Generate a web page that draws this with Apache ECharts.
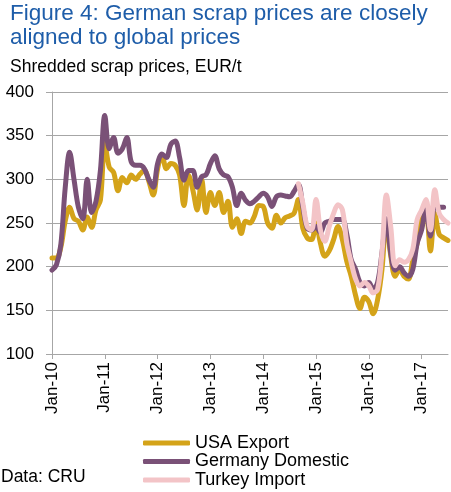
<!DOCTYPE html>
<html>
<head>
<meta charset="utf-8">
<script src="https://cdn.jsdelivr.net/npm/echarts@6/dist/echarts.min.js"></script>
<style>
    html, body { margin: 0; padding: 0; background: #fff; }
    #container { width: 451px; height: 492px; }
</style>
</head>
<body>
<div id="container"></div>
<script>
// 月份标签 Jan-10 ... Jul-17
var monthNames = ['Jan', 'Feb', 'Mar', 'Apr', 'May', 'Jun', 'Jul', 'Aug', 'Sep', 'Oct', 'Nov', 'Dec'];
var years = ['10', '11', '12', '13', '14', '15', '16', '17'];
var lastMonthIndex = 6; // Jul-17
var categories = [];
for (var y = 0; y < years.length; y++) {
    for (var m = 0; m < 12; m++) {
        if (y == years.length - 1 && m > lastMonthIndex) break;
        categories.push(monthNames[m] + '-' + years[y]);
    }
}

var yTicks = [100, 150, 200, 250, 300, 350, 400];

var usaExport = [
    210, 210, 222, 252, 268, 255, 252, 242, 257, 245, 265, 276,
    342, 314, 308, 287, 302, 296, 305, 300, 306, 310, 298, 282,
    312, 328, 312, 318, 316, 305, 270, 305, 288, 265, 300, 262,
    285, 270, 285, 262, 275, 245, 255, 238, 252, 250, 258, 270,
    269, 250, 244, 259, 250, 256, 258, 261, 277, 244, 233, 231,
    250, 227, 212, 218, 231, 246, 231, 206, 189, 167, 152, 165,
    160, 146, 162, 197, 254, 212, 189, 197, 189, 186, 208, 227,
    254, 261, 218, 261, 237, 233, 230
];

var germanyDomestic = [
    196, 202, 225, 290, 331, 300, 268, 255, 300, 262, 275, 310,
    373, 335, 348, 330, 335, 348, 320, 316, 316, 312, 300, 291,
    318, 329, 325, 340, 344, 325, 299, 310, 310, 291, 303, 305,
    318, 327, 312, 305, 303, 291, 270, 284, 276, 272, 275, 280,
    284, 280, 269, 280, 282, 281, 280, 286, 294, 269, 244, 242,
    246, 239, 250, 252, 254, 254, 254, 237, 208, 197, 182, 178,
    182, 174, 182, 216, 255, 215, 196, 200, 193, 189, 197, 227,
    242, 268, 235, 269, 268, 268, null
];

var turkeyImport = [
    null, null, null, null, null, null, null, null, null, null, null, null,
    null, null, null, null, null, null, null, null, null, null, null, null,
    null, null, null, null, null, null, null, null, null, null, null, null,
    null, null, null, null, null, null, null, null, null, null, null, null,
    null, null, null, null, null, null, null, null, 295, 273, 246, 242,
    277, 242, 229, 246, 261, 271, 265, 227, 205, 186, 178, 182,
    178, 170, 174, 216, 282, 245, 201, 208, 205, 208, 220, 254,
    265, 277, 242, 288, 261, 254, 250
];

var seriesNames = ['USA Export', 'Germany Domestic', 'Turkey Import'];
var seriesColors = ['#D4A319', '#7A5177', '#F3C4C7'];
var seriesData = [usaExport, germanyDomestic, turkeyImport];

var fontName = 'Liberation Sans, Arial, sans-serif';
var container = echarts.init(document.getElementById('container'));

function getOption() {
    var series = [];
    for (var i = 0; i < seriesData.length; i++) {
        series.push({
            name: seriesNames[i],
            type: 'line',
            data: seriesData[i],
            smooth: 0.35,
            symbol: 'none',
            connectNulls: false,
            lineStyle: {
                width: 5,
                color: seriesColors[i],
                cap: 'round',
                join: 'round'
            },
            itemStyle: { color: seriesColors[i] },
            z: 2 + i
        });
    }
    return {
        animation: false,
        backgroundColor: '#fff',
        textStyle: { fontFamily: fontName },
        title: [{
            text: 'Figure 4: German scrap prices are closely\naligned to global prices',
            left: 5,
            top: -3,
            textStyle: {
                color: '#1E5DA9',
                fontSize: 22.5,
                fontWeight: 'normal',
                lineHeight: 24,
                fontFamily: fontName
            }
        }, {
            text: 'Shredded scrap prices, EUR/t',
            left: 5,
            top: 53,
            textStyle: {
                color: '#000',
                fontSize: 17.5,
                fontWeight: 'normal',
                fontFamily: fontName
            }
        }, {
            text: 'Data: CRU',
            left: -4,
            top: 463,
            textStyle: {
                color: '#000',
                fontSize: 17.5,
                fontWeight: 'normal',
                fontFamily: fontName
            }
        }],
        legend: {
            orient: 'vertical',
            left: 138,
            top: 429,
            height: 70,
            itemWidth: 47,
            itemHeight: 5,
            itemGap: 0.5,
            icon: 'roundRect',
            data: seriesNames,
            textStyle: {
                color: '#000',
                fontSize: 18,
                lineHeight: 18,
                fontFamily: fontName
            }
        },
        grid: {
            left: 52,
            right: 3,
            top: 92,
            bottom: 138,
            containLabel: false
        },
        xAxis: {
            type: 'category',
            data: categories,
            boundaryGap: false,
            axisLine: { lineStyle: { color: '#A6A6A6', width: 1 } },
            axisTick: {
                show: true,
                interval: 11,
                length: 5,
                lineStyle: { color: '#A6A6A6' }
            },
            axisLabel: {
                interval: 11,
                rotate: 90,
                margin: 8,
                color: '#000',
                fontSize: 17,
                fontFamily: fontName
            },
            splitLine: { show: false }
        },
        yAxis: {
            type: 'value',
            min: yTicks[0],
            max: yTicks[yTicks.length - 1],
            interval: 50,
            axisLine: { show: true, lineStyle: { color: '#A6A6A6', width: 1 } },
            axisTick: { show: true, length: 6, lineStyle: { color: '#A6A6A6' } },
            axisLabel: {
                margin: 18,
                color: '#000',
                fontSize: 17,
                fontFamily: fontName
            },
            splitLine: { show: true, lineStyle: { color: '#A6A6A6', width: 1 } }
        },
        series: series
    };
}

container.setOption(getOption(), true);
</script>
</body>
</html>
